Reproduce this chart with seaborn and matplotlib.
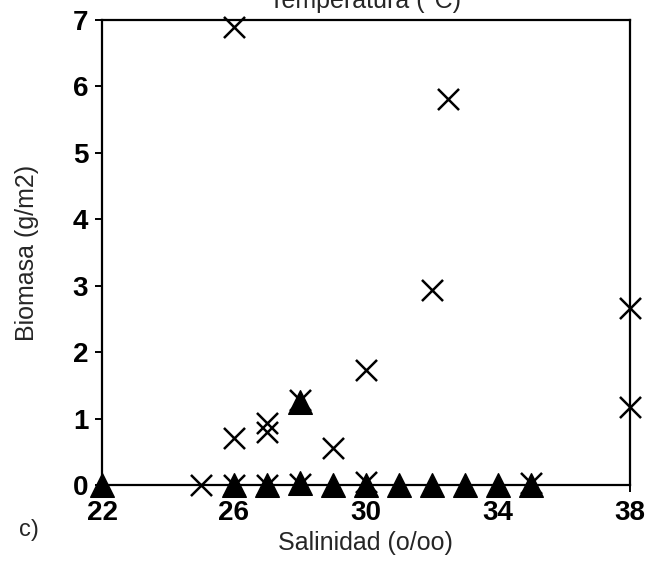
import numpy as np
import pandas as pd
import seaborn as sns
import matplotlib
matplotlib.use("Agg")
import matplotlib.pyplot as plt

# crosses series
cross_sal = [26, 32.5, 32, 38, 38, 30, 28, 27, 27, 26, 29, 25, 26, 27, 28, 30, 35]
cross_bio = [6.89, 5.81, 2.94, 2.67, 1.18, 1.73, 1.28, 0.93, 0.80, 0.71, 0.56,
             0, 0, 0, 0.02, 0.05, 0.03]

# triangles series
tri_sal = [22, 26, 27, 28, 28, 29, 30, 31, 32, 33, 34, 35]
tri_bio = [0, 0, 0, 1.25, 0.03, 0, 0, 0, 0, 0, 0, 0]

x_ticks = [22, 26, 30, 34, 38]
y_ticks = [0, 1, 2, 3, 4, 5, 6, 7]

sns.set_theme(style="ticks")
plt.rcParams["font.family"] = ["Liberation Sans", "DejaVu Sans"]

fig = plt.figure(figsize=(6.54, 5.79), dpi=100)
ax = fig.add_axes([0.156, 0.1623, 0.807, 0.8032])

df_x = pd.DataFrame({"sal": cross_sal, "bio": cross_bio})
df_t = pd.DataFrame({"sal": tri_sal, "bio": tri_bio})

sns.scatterplot(data=df_x, x="sal", y="bio", marker="x", s=230, color="black",
                linewidth=1.8, clip_on=False, zorder=3, ax=ax)
sns.scatterplot(data=df_t, x="sal", y="bio", marker="^", s=290, color="black",
                edgecolor="black", linewidth=1, clip_on=False, zorder=4, ax=ax)

ax.set_xlim(22, 38)
ax.set_ylim(0, 7)
ax.set_xticks(x_ticks)
ax.set_yticks(y_ticks)

for side in ["left", "right", "top", "bottom"]:
    ax.spines[side].set_visible(True)
    ax.spines[side].set_linewidth(1.6)
    ax.spines[side].set_color("black")

ax.tick_params(axis="both", direction="out", length=5, width=1.4, colors="black",
               labelsize=20)
ax.tick_params(axis="x", pad=6)
ax.tick_params(axis="y", pad=5)
for lab in ax.get_xticklabels() + ax.get_yticklabels():
    lab.set_fontweight("bold")

ax.set_xlabel("Salinidad (o/oo)", fontsize=18)
ax.set_ylabel("Biomasa (g/m2)", fontsize=18)
ax.xaxis.set_label_coords(0.5, -0.125)
ax.yaxis.set_label_coords(-0.142, 0.5)
ax.xaxis.label.set_va("center")
ax.yaxis.label.set_va("center")

# title is cut off at the top edge in the reference
fig.text(0.558, 0.986, "Temperatura (°C)", fontsize=18, ha="center", va="baseline")
fig.text(0.045, 0.085, "c)", fontsize=17, ha="center", va="center")

fig.savefig("out.png", dpi=100)
